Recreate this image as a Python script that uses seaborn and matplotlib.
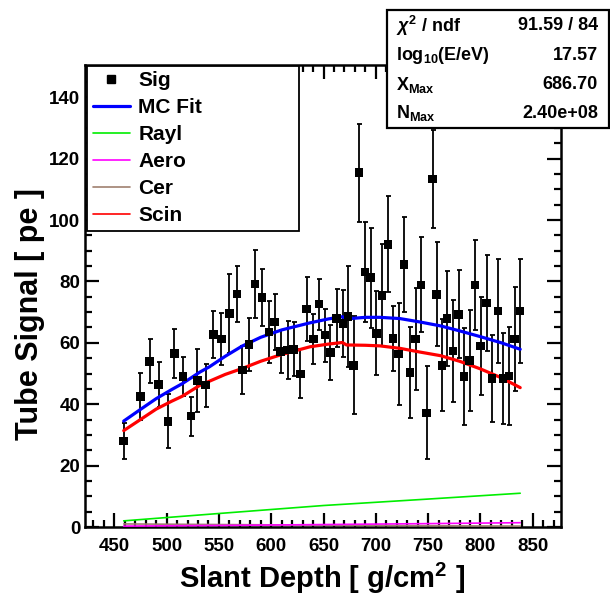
import numpy as np
import pandas as pd
import matplotlib
matplotlib.use("Agg")
import matplotlib.pyplot as plt
import seaborn as sns
from matplotlib.lines import Line2D
from matplotlib.patches import Rectangle
from matplotlib.ticker import MultipleLocator

# data points (Sig)
sig_x = [458.9, 474.8, 483.7, 492.3, 501.2, 507.3, 515.6, 523.5, 529.5, 537.2,
         544.8, 552.4, 560.1, 567.4, 572.5, 578.9, 584.3, 591.0, 598.0, 603.4,
         609.1, 615.8, 621.5, 627.8, 633.9, 640.3, 645.7, 651.4, 656.5, 662.6,
         668.6, 673.4, 678.8, 683.9, 689.6, 695.1, 700.4, 705.9, 711.6, 716.4,
         721.8, 727.1, 732.6, 738.0, 743.1, 748.5, 754.2, 758.0, 763.4, 768.2,
         773.6, 779.1, 784.1, 789.6, 794.6, 800.1, 805.8, 810.9, 816.6, 821.6,
         827.1, 832.8, 837.9]
sig_y = [28.0, 42.6, 54.0, 46.4, 34.4, 56.6, 49.1, 36.1, 47.8, 46.2,
         62.7, 61.3, 69.6, 75.9, 51.1, 59.5, 79.2, 74.7, 63.5, 66.8,
         57.2, 57.6, 57.9, 49.9, 71.0, 61.2, 72.6, 62.5, 56.8, 68.0,
         66.3, 68.5, 52.7, 115.4, 83.1, 81.2, 63.1, 75.5, 92.1, 61.4,
         56.3, 85.6, 50.3, 61.3, 78.9, 37.2, 113.4, 75.8, 52.7, 67.9,
         57.4, 69.3, 49.0, 54.2, 78.8, 59.0, 73.0, 48.4, 70.4, 48.4,
         49.2, 61.2, 70.4]
sig_err = [6.0, 7.6, 7.1, 7.4, 8.8, 7.9, 6.3, 6.3, 10.2, 7.0,
           7.6, 8.5, 12.8, 9.2, 7.8, 8.6, 11.0, 9.2, 10.2, 9.2,
           6.9, 9.4, 8.8, 8.0, 10.4, 8.1, 8.3, 8.6, 9.0, 9.4,
           10.8, 16.5, 16.0, 16.0, 16.2, 16.3, 13.7, 16.7, 15.7, 10.5,
           16.7, 15.5, 14.9, 16.6, 15.5, 15.2, 16.0, 17.0, 15.0, 15.5,
           16.7, 14.4, 15.7, 16.4, 14.7, 16.0, 15.6, 14.3, 17.0, 14.9,
           15.9, 16.9, 16.9]

# fitted curves
fit_x = [459, 475, 490, 505, 515, 532, 541, 556, 572, 590, 610, 637, 655, 668,
         672, 690, 704, 723, 742, 762, 780, 800, 820, 838]
mc_y = [34.5, 38.3, 41.8, 44.8, 46.7, 50.5, 52.2, 55.6, 58.9, 61.8, 64.2, 66.5,
        67.8, 68.5, 67.8, 68.3, 68.3, 67.9, 66.8, 65.5, 63.9, 62.0, 60.0, 57.9]
scin_y = [31.4, 35.0, 38.4, 41.0, 42.6, 46.2, 47.5, 49.7, 51.6, 54.0, 56.2, 58.7,
          59.6, 60.1, 59.3, 59.2, 59.0, 58.2, 57.0, 55.8, 54.0, 51.5, 48.6, 45.4]

comp_x = [459, 550, 650, 750, 838]
rayl_y = [2.0, 4.4, 7.0, 9.1, 11.0]
aero_y = [0.3, 0.5, 0.8, 1.1, 1.4]
cer_y = [1.0, 0.8, 0.6, 0.4, 0.3]

stat_names = [r"$\chi^{2}$ / ndf", r"log$_{10}$(E/eV)", r"X$_{\mathrm{Max}}$", r"N$_{\mathrm{Max}}$"]
stat_vals = ["91.59 / 84", "17.57", "686.70", "2.40e+08"]

sns.set_style("ticks")
plt.rcParams['font.family'] = ['Liberation Sans', 'DejaVu Sans']
plt.rcParams['font.weight'] = 'bold'
plt.rcParams['text.color'] = 'black'
plt.rcParams['axes.labelcolor'] = 'black'
plt.rcParams['xtick.color'] = 'black'
plt.rcParams['ytick.color'] = 'black'
plt.rcParams['axes.edgecolor'] = 'black'
plt.rcParams['mathtext.fontset'] = 'custom'
plt.rcParams['mathtext.rm'] = 'Liberation Sans:bold'
plt.rcParams['mathtext.bf'] = 'Liberation Sans:bold'
plt.rcParams['mathtext.it'] = 'Liberation Sans:italic'

fig = plt.figure(figsize=(6.1, 5.96), dpi=100)
ax = fig.add_axes([85 / 610, 1 - 527 / 596, (561 - 85) / 610, (527 - 65) / 596])

ax.errorbar(sig_x, sig_y, yerr=sig_err, fmt='none', ecolor='black',
            elinewidth=1.3, capsize=1.8, capthick=1.3, zorder=2)

df_fit = pd.DataFrame({'x': fit_x, 'mc': mc_y, 'scin': scin_y})
df_comp = pd.DataFrame({'x': comp_x, 'rayl': rayl_y, 'aero': aero_y, 'cer': cer_y})
sns.lineplot(data=df_comp, x='x', y='rayl', color='#00ee00', lw=1.2, ax=ax, zorder=3)
sns.lineplot(data=df_comp, x='x', y='cer', color='#a08070', lw=1.2, ax=ax, zorder=3)
sns.lineplot(data=df_comp, x='x', y='aero', color='#ff00ff', lw=1.2, ax=ax, zorder=3)
sns.lineplot(data=df_fit, x='x', y='mc', color='#0000ff', lw=2.3, ax=ax, zorder=3)
sns.lineplot(data=df_fit, x='x', y='scin', color='#ff0000', lw=2.3, ax=ax, zorder=3)

df_sig = pd.DataFrame({'x': sig_x, 'y': sig_y})
sns.scatterplot(data=df_sig, x='x', y='y', marker='s', s=38, color='black',
                edgecolor='none', ax=ax, zorder=4)

ax.set_xlim(422, 877)
ax.set_ylim(0, 150.5)
ax.xaxis.set_major_locator(MultipleLocator(50))
ax.xaxis.set_minor_locator(MultipleLocator(10))
ax.yaxis.set_major_locator(MultipleLocator(20))
ax.yaxis.set_minor_locator(MultipleLocator(5))
ax.tick_params(which='both', direction='in', top=True, right=True, width=1.6,
               labelsize=13.5, colors='black')
ax.tick_params(which='major', length=10)
ax.tick_params(which='minor', length=5)
ax.tick_params(axis='x', pad=8)
for s in ax.spines.values():
    s.set_linewidth(1.8)
    s.set_color('black')
ax.set_xlabel('')
ax.set_ylabel('')

fig.text(322 / 610, 1 - 578 / 596, r"Slant Depth [ g/cm$^{2}$ ]", ha='center', va='center',
         fontsize=21, fontweight='bold')
fig.text(30 / 610, 1 - 314 / 596, "Tube Signal [ pe ]", ha='center', va='center',
         rotation=90, fontsize=22, fontweight='bold')

# legend box
handles = [
    Line2D([], [], ls='none', marker='s', color='black', markersize=5.5),
    Line2D([], [], color='#0000ff', lw=2.3),
    Line2D([], [], color='#00ee00', lw=1.2),
    Line2D([], [], color='#ff00ff', lw=1.2),
    Line2D([], [], color='#a08070', lw=1.2),
    Line2D([], [], color='#ff0000', lw=1.2),
]
labels = ['Sig', 'MC Fit', 'Rayl', 'Aero', 'Cer', 'Scin']
leg = fig.legend(handles, labels, loc='upper left',
                 bbox_to_anchor=(87 / 610, 1 - 232 / 596, (299 - 87) / 610, (232 - 65.7) / 596),
                 mode='expand', frameon=True, fancybox=False, framealpha=1,
                 prop={'size': 15, 'weight': 'bold'}, handlelength=1.8, handletextpad=0.4,
                 labelspacing=0.38, borderpad=0.27, borderaxespad=0)
leg.get_frame().set_edgecolor('black')
leg.get_frame().set_linewidth(1.3)

# stats box
fig.patches.append(Rectangle((387 / 610, 1 - 128 / 596), (609 - 387) / 610, (128 - 10) / 596,
                             transform=fig.transFigure, facecolor='white', edgecolor='black',
                             lw=1.6, zorder=5))
row_y = [26, 55, 85, 113]
for yy, name, val in zip(row_y, stat_names, stat_vals):
    fig.text(396 / 610, 1 - yy / 596, name, ha='left', va='center', fontsize=13,
             fontweight='bold', zorder=6)
    fig.text(598 / 610, 1 - yy / 596, val, ha='right', va='center', fontsize=13,
             fontweight='bold', zorder=6)

fig.savefig('out.png', dpi=100)
